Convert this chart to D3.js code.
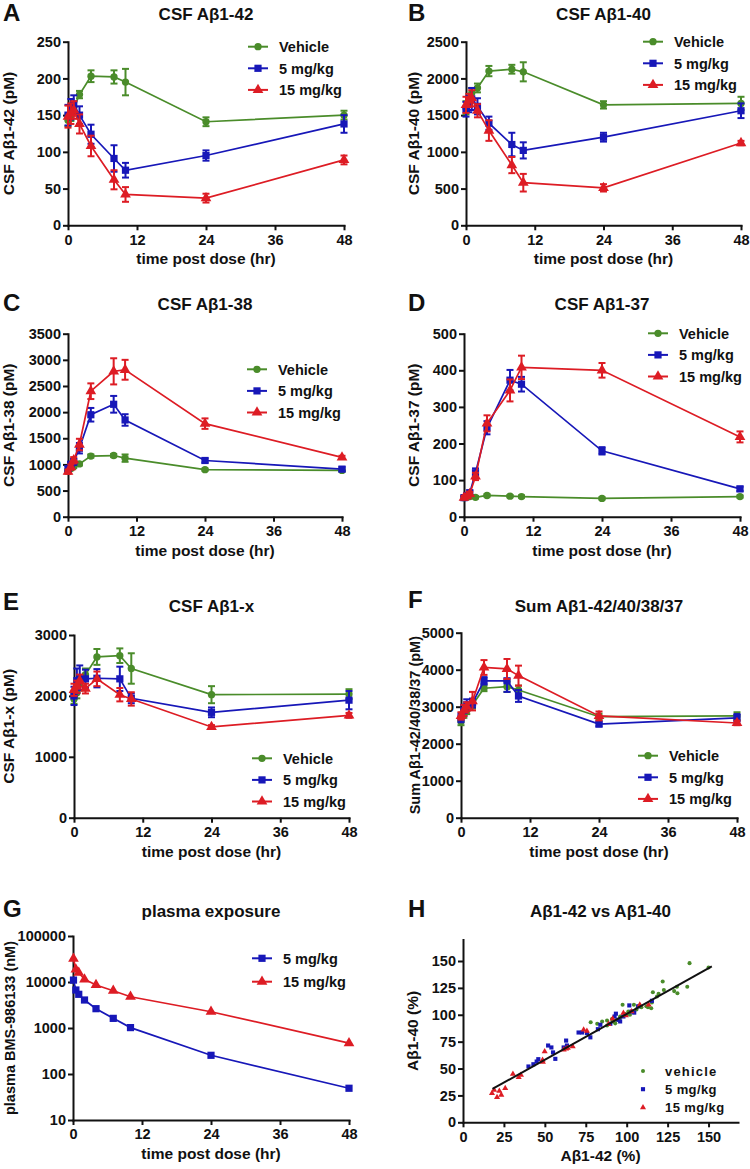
<!DOCTYPE html>
<html><head><meta charset="utf-8">
<script src="https://cdn.jsdelivr.net/npm/d3@7"></script>
<style>
body{margin:0;background:#fff}
svg{display:block}
text{font-family:"Liberation Sans",Arial,sans-serif;font-weight:bold;fill:#111}
</style>
</head><body>
<svg id="c" width="750" height="1169"></svg>
<script>
// ---------------- DATA ----------------
const seriesNames = ["Vehicle", "5 mg/kg", "15 mg/kg"];
const times = [0, 0.5, 1, 2, 4, 8, 10, 24, 48];
const timeTicks = [0, 12, 24, 36, 48];

// A: CSF Aβ1-42 (pM)
const a42Veh = [143, 150, 160, 178, 203, 202, 195, 141, 150];
const a42VehErr = [8, 8, 8, 5, 8, 9, 18, 6, 6];
const a42Low = [150, 158, 165, 150, 124, 91, 75, 95, 138];
const a42LowErr = [14, 14, 12, 12, 13, 18, 10, 7, 12];
const a42High = [148, 152, 157, 138, 108, 62, 42, 37, 89];
const a42HighErr = [15, 14, 12, 13, 14, 13, 10, 6, 6];
const a42Ticks = [0, 50, 100, 150, 200, 250];

// B: CSF Aβ1-40 (pM)
const a40Veh = [1600, 1650, 1800, 1870, 2100, 2125, 2090, 1640, 1660];
const a40VehErr = [90, 80, 70, 60, 70, 60, 130, 50, 90];
const a40Low = [1580, 1650, 1720, 1620, 1390, 1100, 1020, 1200, 1560];
const a40LowErr = [100, 110, 150, 110, 90, 160, 110, 60, 100];
const a40High = [1640, 1700, 1730, 1560, 1290, 820, 580, 510, 1120];
const a40HighErr = [110, 90, 110, 90, 140, 110, 120, 50, 30];
const a40Ticks = [0, 500, 1000, 1500, 2000, 2500];

// C: CSF Aβ1-38 (pM)
const a38Veh = [880, 920, 960, 1010, 1160, 1170, 1120, 900, 885];
const a38VehErr = [30, 30, 30, 30, 30, 30, 70, 20, 20];
const a38Low = [920, 1000, 1050, 1310, 1950, 2150, 1850, 1075, 910];
const a38LowErr = [50, 50, 60, 100, 130, 160, 110, 40, 40];
const a38High = [860, 950, 1080, 1380, 2400, 2780, 2810, 1780, 1135];
const a38HighErr = [40, 50, 60, 110, 150, 250, 190, 100, 30];
const a38Ticks = [0, 500, 1000, 1500, 2000, 2500, 3000, 3500];

// D: CSF Aβ1-37 (pM)
const a37Veh = [52, 54, 55, 53, 58, 56, 55, 50, 55];
const a37VehErr = [4, 4, 4, 3, 3, 3, 3, 3, 3];
const a37Low = [52, 58, 65, 120, 243, 373, 362, 180, 76];
const a37LowErr = [5, 5, 7, 12, 18, 28, 20, 10, 6];
const a37High = [52, 56, 62, 110, 255, 345, 408, 400, 218];
const a37HighErr = [5, 5, 6, 10, 22, 30, 32, 20, 15];
const a37Ticks = [0, 100, 200, 300, 400, 500];

// E: CSF Aβ1-x (pM)
const a1xVeh = [1950, 2050, 2200, 2350, 2640, 2660, 2450, 2020, 2030];
const a1xVehErr = [80, 90, 110, 100, 130, 120, 250, 140, 80];
const a1xLow = [2000, 2250, 2300, 2280, 2290, 2280, 1960, 1730, 1930];
const a1xLowErr = [150, 200, 200, 150, 150, 200, 80, 80, 150];
const a1xHigh = [2100, 2150, 2250, 2120, 2280, 2020, 1950, 1490, 1680];
const a1xHighErr = [100, 100, 100, 80, 120, 110, 110, 30, 40];
const a1xTicks = [0, 1000, 2000, 3000];

// F: Sum Aβ1-42/40/38/37 (pM)
const sumVeh = [2600, 2800, 2900, 3050, 3500, 3540, 3450, 2730, 2750];
const sumVehErr = [100, 100, 100, 100, 80, 140, 120, 80, 100];
const sumLow = [2700, 2900, 3050, 3100, 3700, 3700, 3290, 2530, 2700];
const sumLowErr = [120, 150, 150, 120, 100, 300, 160, 60, 100];
const sumHigh = [2750, 2900, 3000, 3150, 4060, 4020, 3840, 2750, 2560];
const sumHighErr = [100, 150, 120, 250, 200, 270, 270, 120, 60];
const sumTicks = [0, 1000, 2000, 3000, 4000, 5000];

// G: plasma BMS-986133 (nM)
const plasmaTimes = [0.083, 0.5, 1, 2, 4, 7, 10, 24, 48];
const plasmaLow = [11000, 6700, 5400, 4060, 2630, 1620, 1020, 255, 49];
const plasmaHigh = [32000, 18800, 15900, 11400, 8600, 6460, 4780, 2260, 470];
const plasmaTicks = [10, 100, 1000, 10000, 100000];

// H: Aβ1-42 vs Aβ1-40 (%)
const hVehX = [78, 82, 85, 88, 91, 91.4, 94, 96, 97.5, 99, 101, 102, 104.4, 106, 107, 109, 112, 113, 115, 115.4, 116, 118.5, 119.5, 122, 122.7, 129, 130.7, 131, 137, 138.4, 150, 88, 93, 96, 100];
const hVehY = [93, 91.6, 93.8, 94.7, 96, 93.8, 95.3, 98.4, 109.3, 100.6, 103, 100, 109.3, 105, 108, 107, 108, 107, 106, 111.5, 121, 117, 119.6, 131, 123, 122, 126, 120, 126, 148, 144, 90, 92, 97, 100];
const hLowX = [40, 43, 45, 46, 52, 54, 55, 56.4, 61.5, 63, 63.5, 70.6, 72.7, 75.7, 77.8, 82.4, 83.9, 90, 92.6, 93.4, 95, 96, 98, 101.6, 103, 104.6, 107, 115.4];
const hLowY = [51.9, 54, 56.5, 58.7, 71.4, 69.6, 65, 59, 69.6, 76, 71.4, 83.5, 83.5, 83, 79, 86.6, 90.7, 91.6, 98.4, 101, 95.3, 93.8, 98.4, 108.7, 103, 102, 107.8, 113];
const hHighX = [17.7, 19, 20.8, 22.2, 23.4, 25.8, 30.5, 34, 35.4, 48.6, 49.9, 48.8, 61.5, 63, 64, 67, 73.7, 75.7, 88.9, 91.4, 98, 99.5, 103, 108, 113.4];
const hHighY = [27, 30, 23.3, 29.2, 25.5, 31.7, 45, 42, 44, 58, 65.8, 56, 67.4, 68.3, 69, 70.5, 86, 85, 91.3, 96.3, 101.6, 99.4, 103, 109.3, 109.3];
const fitX = [18, 152];
const fitY = [31, 145];
const hTicks = [0, 25, 50, 75, 100, 125, 150];

// ---------------- DRAWING ----------------
const svg = d3.select("#c");
const COLORS = ["#4a8c2a", "#1717b8", "#dd1c24"];
const SYMS = [d3.symbolCircle, d3.symbolSquare, d3.symbolTriangle];
const SIZES = [42, 52, 50];
const fmt = d3.format("d");

function styleAxis(a, fs) {
  a.select(".domain").attr("stroke", "#111").attr("stroke-width", 2).attr("stroke-linecap", "square");
  a.selectAll(".tick line").attr("stroke", "#111").attr("stroke-width", 2);
  a.selectAll(".tick text").attr("font-size", fs || 14.5).attr("fill", "#111")
    .style("font-family", '"Liberation Sans", Arial, sans-serif').style("font-weight", "bold");
}

function frame(p, x, y, xTicks) {
  const g = svg.append("g");
  const xa = g.append("g").attr("transform", `translate(0,${p.yBot})`)
    .call(d3.axisBottom(x).tickValues(xTicks).tickSize(5).tickSizeOuter(0).tickPadding(4).tickFormat(fmt));
  const ya = g.append("g").attr("transform", `translate(${p.x0},0)`)
    .call(d3.axisLeft(y).tickValues(p.yTicks).tickSize(5).tickSizeOuter(0).tickPadding(2).tickFormat(fmt));
  styleAxis(xa); styleAxis(ya);
  svg.append("text").attr("x", p.letterX).attr("y", p.letterY).attr("font-size", 24).text(p.letter);
  svg.append("text").attr("x", (p.x0 + p.x1) / 2).attr("y", p.titleY).attr("text-anchor", "middle")
    .attr("font-size", 17).text(p.title);
  svg.append("text").attr("x", (p.x0 + p.x1) / 2).attr("y", p.yBot + 39).attr("text-anchor", "middle")
    .attr("font-size", 15.5).text(p.xlabel || "time post dose (hr)");
  svg.append("text").attr("transform", `translate(${p.ylabX},${(p.yTop + p.yBot) / 2}) rotate(-90)`)
    .attr("text-anchor", "middle").attr("dy", "0.35em").attr("font-size", p.ylabFs || 15.5).text(p.ylabel);
  return g;
}

function legend(items, lx, ly, step) {
  items.forEach((k, i) => {
    const yy = ly + i * step;
    svg.append("line").attr("x1", lx).attr("x2", lx + 20).attr("y1", yy).attr("y2", yy)
      .attr("stroke", COLORS[k]).attr("stroke-width", 2);
    svg.append("path").attr("d", d3.symbol(SYMS[k], SIZES[k])()).attr("fill", COLORS[k])
      .attr("transform", `translate(${lx + 10},${yy})`);
    svg.append("text").attr("x", lx + 31).attr("y", yy).attr("dy", "0.36em").attr("font-size", 14.5)
      .text(seriesNames[k]);
  });
}

function timePanel(p) {
  const x = d3.scaleLinear().domain([0, 48]).range([p.x0, p.x1]);
  const y = (p.log ? d3.scaleLog() : d3.scaleLinear()).domain(p.yDomain).range([p.yBot, p.yTop]);
  frame(p, x, y, timeTicks);
  p.series.forEach(s => {
    const col = COLORS[s.k];
    const ts = s.t || times;
    const pts = ts.map((t, i) => ({ t, v: s.v[i], e: s.e ? s.e[i] : 0 }));
    svg.append("path").datum(pts).attr("fill", "none").attr("stroke", col).attr("stroke-width", 1.7)
      .attr("d", d3.line().x(d => x(d.t)).y(d => y(d.v)));
    if (s.e) {
      const eb = svg.append("g").attr("stroke", col).attr("stroke-width", 2);
      pts.forEach(d => {
        const y1 = y(d.v - d.e), y2 = y(d.v + d.e), xx = x(d.t);
        eb.append("line").attr("x1", xx).attr("x2", xx).attr("y1", y1).attr("y2", y2);
        eb.append("line").attr("x1", xx - 3.5).attr("x2", xx + 3.5).attr("y1", y1).attr("y2", y1);
        eb.append("line").attr("x1", xx - 3.5).attr("x2", xx + 3.5).attr("y1", y2).attr("y2", y2);
      });
    }
    svg.append("g").selectAll("path").data(pts).join("path")
      .attr("d", d3.symbol(SYMS[s.k], SIZES[s.k])()).attr("fill", col)
      .attr("transform", d => `translate(${x(d.t)},${y(d.v)})`);
  });
  legend(p.series.map(s => s.k), p.lx, p.ly, p.lstep || 21.6);
}

timePanel({letter: "A", letterX: 3, letterY: 21, title: "CSF Aβ1-42", titleY: 20, ylabel: "CSF Aβ1-42 (pM)", ylabX: 9,
  x0: 68, x1: 344, yTop: 41.7, yBot: 225.3, yDomain: [0, 250], yTicks: a42Ticks, lx: 248, ly: 46.7,
  series: [{k: 0, v: a42Veh, e: a42VehErr}, {k: 1, v: a42Low, e: a42LowErr}, {k: 2, v: a42High, e: a42HighErr}]});

timePanel({letter: "B", letterX: 408, letterY: 21, title: "CSF Aβ1-40", titleY: 20, ylabel: "CSF Aβ1-40 (pM)", ylabX: 414,
  x0: 466, x1: 741, yTop: 41.7, yBot: 225.3, yDomain: [0, 2500], yTicks: a40Ticks, lx: 643, ly: 41.7,
  series: [{k: 0, v: a40Veh, e: a40VehErr}, {k: 1, v: a40Low, e: a40LowErr}, {k: 2, v: a40High, e: a40HighErr}]});

timePanel({letter: "C", letterX: 3, letterY: 311, title: "CSF Aβ1-38", titleY: 310, ylabel: "CSF Aβ1-38 (pM)", ylabX: 9,
  x0: 68, x1: 342, yTop: 333.7, yBot: 516.7, yDomain: [0, 3500], yTicks: a38Ticks, lx: 247, ly: 369.3,
  series: [{k: 0, v: a38Veh, e: a38VehErr}, {k: 1, v: a38Low, e: a38LowErr}, {k: 2, v: a38High, e: a38HighErr}]});

timePanel({letter: "D", letterX: 408, letterY: 311, title: "CSF Aβ1-37", titleY: 310, ylabel: "CSF Aβ1-37 (pM)", ylabX: 414,
  x0: 464, x1: 740, yTop: 333.7, yBot: 516.7, yDomain: [0, 500], yTicks: a37Ticks, lx: 648, ly: 333.3,
  series: [{k: 0, v: a37Veh, e: a37VehErr}, {k: 1, v: a37Low, e: a37LowErr}, {k: 2, v: a37High, e: a37HighErr}]});

timePanel({letter: "E", letterX: 3, letterY: 610, title: "CSF Aβ1-x", titleY: 612, ylabel: "CSF Aβ1-x (pM)", ylabX: 9,
  x0: 74, x1: 349, yTop: 635, yBot: 817.7, yDomain: [0, 3000], yTicks: a1xTicks, lx: 252, ly: 758.3,
  series: [{k: 0, v: a1xVeh, e: a1xVehErr}, {k: 1, v: a1xLow, e: a1xLowErr}, {k: 2, v: a1xHigh, e: a1xHighErr}]});

timePanel({letter: "F", letterX: 408, letterY: 608, title: "Sum Aβ1-42/40/38/37", titleY: 612, ylabel: "Sum Aβ1-42/40/38/37 (pM)", ylabX: 415, ylabFs: 14.5,
  x0: 461, x1: 737, yTop: 632.7, yBot: 817.7, yDomain: [0, 5000], yTicks: sumTicks, lx: 638, ly: 755.7,
  series: [{k: 0, v: sumVeh, e: sumVehErr}, {k: 1, v: sumLow, e: sumLowErr}, {k: 2, v: sumHigh, e: sumHighErr}]});

timePanel({letter: "G", letterX: 3, letterY: 917, title: "plasma exposure", titleY: 917, ylabel: "plasma BMS-986133 (nM)", ylabX: 10, ylabFs: 14.5,
  x0: 73, x1: 349, yTop: 936, yBot: 1120, yDomain: [10, 100000], yTicks: plasmaTicks, log: true, lx: 252, ly: 958.3, lstep: 23.4,
  series: [{k: 1, v: plasmaLow, t: plasmaTimes}, {k: 2, v: plasmaHigh, t: plasmaTimes}]});

// H scatter
(function () {
  const p = {letter: "H", letterX: 408, letterY: 917, title: "Aβ1-42 vs Aβ1-40", titleY: 917, ylabel: "Aβ1-40 (%)", ylabX: 413,
    xlabel: "Aβ1-42 (%)", x0: 463, x1: 738, yTop: 939.5, yBot: 1122.3, yTicks: hTicks};
  const x = d3.scaleLinear().domain([0, 168]).range([p.x0, p.x1]);
  const y = d3.scaleLinear().domain([0, 170]).range([p.yBot, p.yTop]);
  frame(p, x, y, hTicks);
  const sets = [[hVehX, hVehY], [hLowX, hLowY], [hHighX, hHighY]];
  const hs = [13, 17, 16];
  sets.forEach((s, k) => {
    svg.append("g").selectAll("path").data(s[0].map((v, i) => [v, s[1][i]])).join("path")
      .attr("d", d3.symbol(SYMS[k], hs[k])()).attr("fill", COLORS[k])
      .attr("transform", d => `translate(${x(d[0])},${y(d[1])})`);
  });
  svg.append("path").datum(fitX.map((v, i) => [v, fitY[i]])).attr("fill", "none").attr("stroke", "#111")
    .attr("stroke-width", 2).attr("d", d3.line().x(d => x(d[0])).y(d => y(d[1])));
  const names = ["vehicle", "5 mg/kg", "15 mg/kg"];
  names.forEach((n, k) => {
    const yy = 1071 + k * 18.2;
    svg.append("path").attr("d", d3.symbol(SYMS[k], hs[k])()).attr("fill", COLORS[k])
      .attr("transform", `translate(643,${yy})`);
    svg.append("text").attr("x", 665).attr("y", yy).attr("dy", "0.36em").attr("font-size", 13)
      .attr("letter-spacing", k === 0 ? 1.2 : 0.4).text(n);
  });
})();
</script>
</body></html>
